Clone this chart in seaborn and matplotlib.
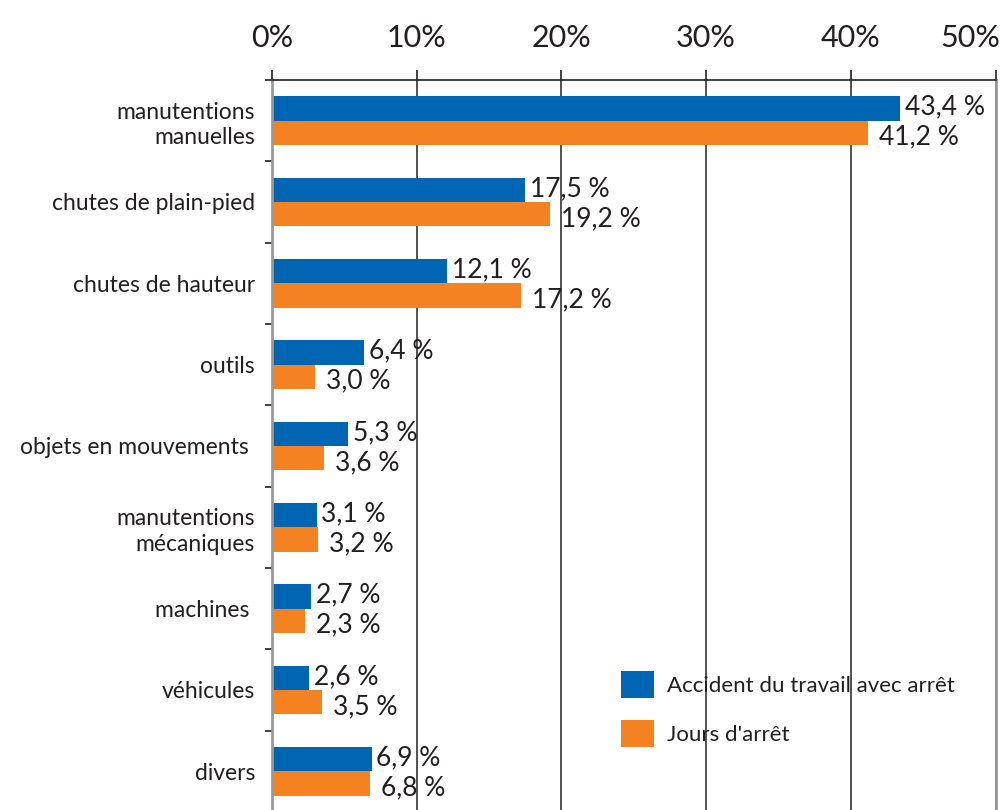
import matplotlib
matplotlib.use("Agg")
import matplotlib.pyplot as plt
import matplotlib.transforms as mtransforms
import seaborn as sns
import pandas as pd
from matplotlib.patches import Patch
from matplotlib.ticker import FixedLocator

categories = ["manutentions\nmanuelles", "chutes de plain-pied", "chutes de hauteur",
              "outils", "objets en mouvements ", "manutentions\nmécaniques",
              "machines ", "véhicules", "divers"]
accidents = [43.4, 17.5, 12.1, 6.4, 5.3, 3.1, 2.7, 2.6, 6.9]
jours = [41.2, 19.2, 17.2, 3.0, 3.6, 3.2, 2.3, 3.5, 6.8]
series = ["Accident du travail avec arrêt", "Jours d'arrêt"]
xticks = [0, 10, 20, 30, 40, 50]
xtick_labels = ["0%", "10%", "20%", "30%", "40%", "50%"]

BLUE = "#0066B3"
ORANGE = "#F58220"
TXT = "#231F20"

sns.set_theme(style="white")
plt.rcParams['font.family'] = ['Lato', 'DejaVu Sans']

df = pd.DataFrame({
    "cat": categories * 2,
    "val": accidents + jours,
    "serie": [series[0]] * len(categories) + [series[1]] * len(categories),
})

fig = plt.figure(figsize=(10.08, 8.10), dpi=100)
ax = fig.add_axes([271.7 / 1008, 1 - 812 / 810, (995.7 - 271.7) / 1008, (812 - 80) / 810])

sns.barplot(data=df, y="cat", x="val", hue="serie", hue_order=series, order=categories,
            palette=[BLUE, ORANGE], width=0.6, orient="h", ax=ax, saturation=1,
            legend=False, linewidth=0)

ax.set_xlim(0, 50)
ax.set_ylim(len(categories) - 0.5, -0.5)
ax.set_xlabel("")
ax.set_ylabel("")

ax.xaxis.tick_top()
ax.xaxis.set_major_locator(FixedLocator(xticks))
ax.set_xticklabels(xtick_labels)
ax.tick_params(axis="x", which="major", top=True, bottom=False, length=7.5, width=1.2,
               color=TXT, labelsize=22, labelcolor=TXT, pad=13)
last = ax.get_xticklabels()[-1]
last.set_horizontalalignment("right")
last.set_transform(last.get_transform() + mtransforms.ScaledTranslation(5 / 100, 0, fig.dpi_scale_trans))

ax.yaxis.set_minor_locator(FixedLocator([i - 0.5 for i in range(len(categories) + 1)]))
ax.tick_params(axis="y", which="major", left=True, length=0, labelsize=16.5,
               labelcolor=TXT, pad=12)
ax.tick_params(axis="y", which="minor", left=True, length=5, width=1.2, color=TXT)
for t in ax.get_yticklabels():
    t.set_linespacing(1.25)

ax.set_axisbelow(True)
ax.xaxis.grid(True, color="#333333", linewidth=1.2)
ax.yaxis.grid(False)

ax.spines["top"].set_color(TXT)
ax.spines["top"].set_linewidth(1.2)
for s in ["left", "right"]:
    ax.spines[s].set_color("#9a9a9a")
    ax.spines[s].set_linewidth(2)
ax.spines["bottom"].set_visible(False)

def fmt(v):
    return f"{v:.1f} %".replace(".", ",")

blue_labels = ax.bar_label(ax.containers[0], labels=[fmt(v) for v in accidents], padding=3.5,
                           fontsize=19, color=TXT)
orange_labels = ax.bar_label(ax.containers[1], labels=[fmt(v) for v in jours], padding=8,
                             fontsize=19, color=TXT)
for t in blue_labels:
    t.xyann = (3.5, 1)
for t in orange_labels:
    t.xyann = (8, -3)

handles = [Patch(facecolor=BLUE, edgecolor="none"), Patch(facecolor=ORANGE, edgecolor="none")]
fig.legend(handles, series, loc="upper left", bbox_to_anchor=(621 / 1008, 1 - 671 / 810),
           frameon=False, fontsize=16, handlelength=1.48, handleheight=1.48,
           handletextpad=0.6, labelspacing=1.0, borderpad=0, borderaxespad=0,
           labelcolor=TXT)

fig.savefig("out.png", dpi=100)
